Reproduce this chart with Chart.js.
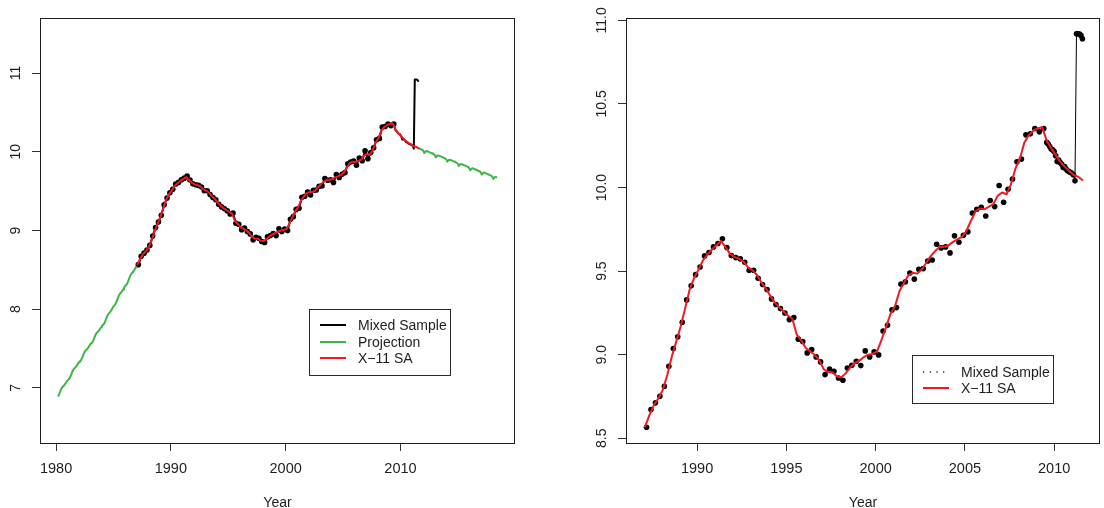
<!DOCTYPE html>
<html>
<head>
<meta charset="utf-8">
<title>Mixed sample, X-11 SA and projection</title>
<script src="https://cdn.jsdelivr.net/npm/chart.js@4.4.1/dist/chart.umd.min.js"></script>
<style>
  html, body { margin: 0; padding: 0; background: #ffffff; }
  #wrap { position: relative; width: 1104px; height: 508px; }
  #wrap canvas { position: absolute; top: 0; }
  #left { left: 0; }
  #right { left: 552px; }
</style>
</head>
<body>
<div id="wrap">
  <canvas id="left" width="552" height="508"></canvas>
  <canvas id="right" width="552" height="508"></canvas>
</div>
<script>
// ---- data (time in decimal years) ----

// Projection before the sample: monthly, from March 1980 to January 1987
const projEarlyStart = 1980 + 2 / 12;
const projEarly = [
  6.890, 6.913, 6.944, 6.976, 7.001, 7.016, 7.027, 7.042, 7.060, 7.079,
  7.098, 7.107, 7.120, 7.144, 7.175, 7.206, 7.231, 7.246, 7.258, 7.273, 7.290, 7.309,
  7.328, 7.338, 7.351, 7.374, 7.405, 7.436, 7.462, 7.477, 7.488, 7.503, 7.520, 7.540,
  7.559, 7.568, 7.581, 7.604, 7.636, 7.667, 7.692, 7.707, 7.718, 7.734, 7.751, 7.770,
  7.789, 7.798, 7.812, 7.835, 7.866, 7.899, 7.927, 7.944, 7.957, 7.974, 7.994, 8.015,
  8.036, 8.047, 8.063, 8.088, 8.121, 8.154, 8.182, 8.199, 8.212, 8.229, 8.249, 8.270,
  8.291, 8.302, 8.318, 8.343, 8.376, 8.409, 8.437, 8.454, 8.467, 8.484, 8.504, 8.525,
  8.546
];

// Projection after the sample: monthly, from August 2011 to June 2018
const projLateStart = 2011 + 7 / 12;
const projLate = [
  10.045, 10.040, 10.035, 10.029, 10.023,
  10.010, 9.984, 9.999, 10.009, 10.006, 10.002, 9.996, 9.990, 9.986, 9.980, 9.975, 9.968,
  9.956, 9.929, 9.945, 9.954, 9.951, 9.947, 9.941, 9.936, 9.931, 9.926, 9.920, 9.914,
  9.901, 9.875, 9.890, 9.899, 9.897, 9.892, 9.887, 9.881, 9.877, 9.871, 9.866, 9.859,
  9.846, 9.820, 9.835, 9.845, 9.842, 9.838, 9.832, 9.827, 9.822, 9.817, 9.811, 9.804,
  9.792, 9.765, 9.781, 9.790, 9.788, 9.783, 9.778, 9.772, 9.768, 9.762, 9.756, 9.750,
  9.737, 9.711, 9.726, 9.736, 9.733, 9.729, 9.723, 9.717, 9.713, 9.707, 9.702, 9.695,
  9.683, 9.656, 9.672, 9.681, 9.678, 9.674
];

// Mixed sample, quarterly part: end-of-quarter months, March 1987 to June 2009
const quarterlyStart = 1987 + 2 / 12;
const mixedQuarterly = [
  8.566, 8.672, 8.712, 8.752,
  8.811, 8.931, 9.037, 9.107,
  9.194, 9.328, 9.412, 9.479,
  9.525, 9.591, 9.611, 9.645,
  9.665, 9.693, 9.641, 9.593,
  9.581, 9.573, 9.553, 9.505,
  9.505, 9.457, 9.420, 9.390,
  9.334, 9.300, 9.276, 9.250,
  9.210, 9.222, 9.093, 9.079,
  9.011, 9.031, 8.987, 8.957,
  8.881, 8.915, 8.901, 8.861,
  8.847, 8.921, 8.937, 8.961,
  8.935, 9.023, 8.987, 9.017,
  8.999, 9.142, 9.176, 9.268,
  9.282, 9.422, 9.436, 9.489,
  9.452, 9.511, 9.515, 9.561,
  9.567, 9.661, 9.639, 9.645,
  9.609, 9.711, 9.673, 9.715,
  9.735, 9.848, 9.870, 9.882,
  9.830, 9.922, 9.886, 10.012,
  9.912, 9.990, 10.050, 10.154,
  10.170, 10.315, 10.321, 10.353,
  10.333, 10.353
];

// Mixed sample, monthly part: August 2009 to August 2011
const monthlyStart = 2009 + 7 / 12;
const mixedMonthly = [
  10.270, 10.260, 10.245, 10.230, 10.225,
  10.215, 10.190, 10.155, 10.165, 10.150, 10.140, 10.120, 10.125, 10.110, 10.100, 10.095, 10.090,
  10.085, 10.075, 10.040, 10.920, 10.920, 10.918, 10.910, 10.890
];

// X-11 seasonally adjusted series, every third month from February 1987 to August 2011
const x11Start = 1987 + 1 / 12;
const x11SA = [
  8.570, 8.640, 8.700, 8.740,
  8.790, 8.880, 8.990, 9.080,
  9.170, 9.280, 9.390, 9.460,
  9.510, 9.565, 9.600, 9.630,
  9.655, 9.680, 9.645, 9.605,
  9.585, 9.575, 9.560, 9.525,
  9.505, 9.480, 9.435, 9.400,
  9.355, 9.315, 9.285, 9.260,
  9.235, 9.215, 9.120, 9.085,
  9.040, 9.020, 9.000, 8.970,
  8.915, 8.895, 8.895, 8.870,
  8.865, 8.890, 8.925, 8.950,
  8.965, 8.985, 9.000, 9.005,
  9.020, 9.090, 9.165, 9.245,
  9.290, 9.380, 9.430, 9.475,
  9.490, 9.485, 9.510, 9.550,
  9.590, 9.620, 9.645, 9.645,
  9.655, 9.675, 9.690, 9.705,
  9.740, 9.800, 9.855, 9.875,
  9.870, 9.885, 9.900, 9.950,
  9.970, 9.960, 10.020, 10.115,
  10.175, 10.270, 10.315, 10.340,
  10.355, 10.360, 10.280, 10.235,
  10.195, 10.155, 10.125, 10.100,
  10.075, 10.065, 10.045
];

// Axis ticks
const leftXTicks = [1980, 1990, 2000, 2010];
const leftYTicks = [7, 8, 9, 10, 11];
const rightXTicks = [1990, 1995, 2000, 2005, 2010];
const rightYTicks = [8.5, 9.0, 9.5, 10.0, 10.5, 11.0];

// Labels
const xTitle = 'Year';
const nameMixed = 'Mixed Sample';
const nameProj = 'Projection';
const nameX11 = 'X\u221211 SA';

// ---- helpers ----
const MONTH = 1 / 12;
const QUARTER = 0.25;
function series(start, step, values) {
  return values.map((v, i) => ({ x: start + i * step, y: v }));
}

const RED = '#f01a22';
const GREEN = '#3db54a';
const BLACK = '#000000';
const INK = '#1e1e1e';
const FONT = '"Liberation Sans", Arial, Helvetica, sans-serif';

const quarterlyPts = series(quarterlyStart, QUARTER, mixedQuarterly);
const mixedMonthlyPts = series(monthlyStart, MONTH, mixedMonthly);
const mixedAll = quarterlyPts.concat(mixedMonthlyPts);
const x11Pts = series(x11Start, QUARTER, x11SA);

// Frame, tick labels, axis title and legend drawn in the style of base graphics
function framePlugin(cfg) {
  return {
    id: 'frame',
    afterDraw(chart) {
      const ctx = chart.ctx;
      const a = chart.chartArea;
      const xs = chart.scales.x, ys = chart.scales.y;
      ctx.save();
      // plot box
      ctx.strokeStyle = INK;
      ctx.lineWidth = 1;
      ctx.strokeRect(Math.round(a.left) + 0.5, Math.round(a.top) + 0.5,
        Math.round(a.right - a.left) - 1, Math.round(a.bottom - a.top));
      ctx.fillStyle = INK;
      // x tick labels
      ctx.font = '14.5px ' + FONT;
      ctx.textAlign = 'center';
      ctx.textBaseline = 'alphabetic';
      cfg.xTicks.forEach(v => ctx.fillText(String(v), xs.getPixelForValue(v), 472.5));
      // x title
      ctx.font = '14px ' + FONT;
      ctx.fillText(xTitle, (a.left + a.right) / 2, 506.5);
      // y tick labels, rotated
      ctx.font = '14px ' + FONT;
      cfg.yTicks.forEach(v => {
        ctx.save();
        ctx.translate(cfg.yLabelX, ys.getPixelForValue(v));
        ctx.rotate(-Math.PI / 2);
        ctx.textAlign = 'center';
        ctx.fillText(cfg.yFormat(v), 0, 0);
        ctx.restore();
      });
      // legend
      const L = cfg.legend;
      ctx.fillStyle = '#ffffff';
      ctx.fillRect(L.x, L.y, L.w, L.h);
      ctx.strokeStyle = '#2a2a2a';
      ctx.lineWidth = 1;
      ctx.strokeRect(L.x + 0.5, L.y + 0.5, L.w, L.h);
      ctx.font = '14px ' + FONT;
      ctx.textAlign = 'left';
      L.items.forEach((it, i) => {
        const y = L.rowY[i];
        ctx.save();
        ctx.strokeStyle = it.color;
        ctx.lineWidth = it.width;
        if (it.dotted) {
          ctx.fillStyle = it.color;
          for (let k = 0; k < 4; k++) {
            ctx.beginPath();
            ctx.arc(L.lineX0 + 0.6 + k * 6.7, y, 0.75, 0, Math.PI * 2);
            ctx.fill();
          }
        } else {
          ctx.beginPath();
          ctx.moveTo(L.lineX0, y);
          ctx.lineTo(L.lineX1, y);
          ctx.stroke();
        }
        ctx.restore();
        ctx.fillStyle = INK;
        ctx.fillText(it.label, L.textX, y + 5);
      });
      ctx.restore();
    }
  };
}

function axes(xMin, xMax, yMin, yMax, xTicks, yTicks, yWidth) {
  const grid = { drawOnChartArea: false, drawTicks: true, tickLength: 8, color: '#333333', lineWidth: 1 };
  return {
    x: {
      type: 'linear', min: xMin, max: xMax,
      grid: grid, border: { display: false },
      ticks: { display: false },
      afterBuildTicks: s => { s.ticks = xTicks.map(v => ({ value: v })); },
      afterFit: s => { s.height = 65; }
    },
    y: {
      type: 'linear', min: yMin, max: yMax,
      grid: grid, border: { display: false },
      ticks: { display: false },
      afterBuildTicks: s => { s.ticks = yTicks.map(v => ({ value: v })); },
      afterFit: s => { s.width = yWidth; }
    }
  };
}

const common = {
  responsive: false,
  animation: false,
  devicePixelRatio: 1,
  events: [],
  plugins: { legend: { display: false }, tooltip: { enabled: false } }
};

// ---- left panel: full span with projections ----
new Chart(document.getElementById('left'), {
  type: 'line',
  data: {
    datasets: [
      { label: nameX11, data: x11Pts, borderColor: RED, borderWidth: 2, pointRadius: 0,
        borderJoinStyle: 'round', borderCapStyle: 'round', tension: 0, order: 0 },
      { label: nameProj, data: series(projEarlyStart, MONTH, projEarly), borderColor: GREEN, borderWidth: 2,
        pointRadius: 0, borderJoinStyle: 'round', tension: 0, order: 1 },
      { label: nameProj, data: series(projLateStart, MONTH, projLate), borderColor: GREEN, borderWidth: 2,
        pointRadius: 0, borderJoinStyle: 'round', tension: 0, order: 1 },
      { label: nameMixed, data: mixedAll, borderColor: BLACK, borderWidth: 2, tension: 0,
        borderJoinStyle: 'round', pointRadius: 0, order: 2 },
      { label: nameMixed, data: quarterlyPts, showLine: false, pointRadius: 2.8, pointBorderWidth: 0,
        pointBackgroundColor: BLACK, order: 3 }
    ]
  },
  options: Object.assign({}, common, {
    layout: { padding: { top: 18, right: 37, left: 0, bottom: 0 } },
    scales: axes(1978.6, 2019.98, 6.3, 11.7, leftXTicks, leftYTicks, 40)
  }),
  plugins: [framePlugin({
    xTicks: leftXTicks, yTicks: leftYTicks, yLabelX: 20, yFormat: v => String(v),
    legend: {
      x: 309, y: 309, w: 141, h: 66, lineX0: 320, lineX1: 346, textX: 358,
      rowY: [325, 342, 358],
      items: [
        { label: nameMixed, color: BLACK, width: 2 },
        { label: nameProj, color: GREEN, width: 2 },
        { label: nameX11, color: RED, width: 2 }
      ]
    }
  })]
});

// ---- right panel: sample period only ----
new Chart(document.getElementById('right'), {
  type: 'line',
  data: {
    datasets: [
      { label: nameX11, data: x11Pts, borderColor: RED, borderWidth: 2, pointRadius: 0,
        borderJoinStyle: 'round', borderCapStyle: 'round', tension: 0, order: 0 },
      { label: nameMixed, data: mixedMonthlyPts, borderColor: BLACK, borderWidth: 1, pointRadius: 0,
        tension: 0, order: 1 },
      { label: nameMixed, data: mixedAll, showLine: false, pointRadius: 2.8, pointBorderWidth: 0,
        pointBackgroundColor: BLACK, order: 2 }
    ]
  },
  options: Object.assign({}, common, {
    layout: { padding: { top: 18, right: 4, left: 0, bottom: 0 } },
    scales: axes(1986.017, 2012.567, 8.472, 11.014, rightXTicks, rightYTicks, 74)
  }),
  plugins: [framePlugin({
    xTicks: rightXTicks, yTicks: rightYTicks, yLabelX: 54.3, yFormat: v => v.toFixed(1),
    legend: {
      x: 360, y: 355, w: 141, h: 48, lineX0: 371, lineX1: 397, textX: 409,
      rowY: [372, 388],
      items: [
        { label: nameMixed, color: BLACK, width: 1, dotted: true },
        { label: nameX11, color: RED, width: 2 }
      ]
    }
  })]
});
</script>
</body>
</html>
